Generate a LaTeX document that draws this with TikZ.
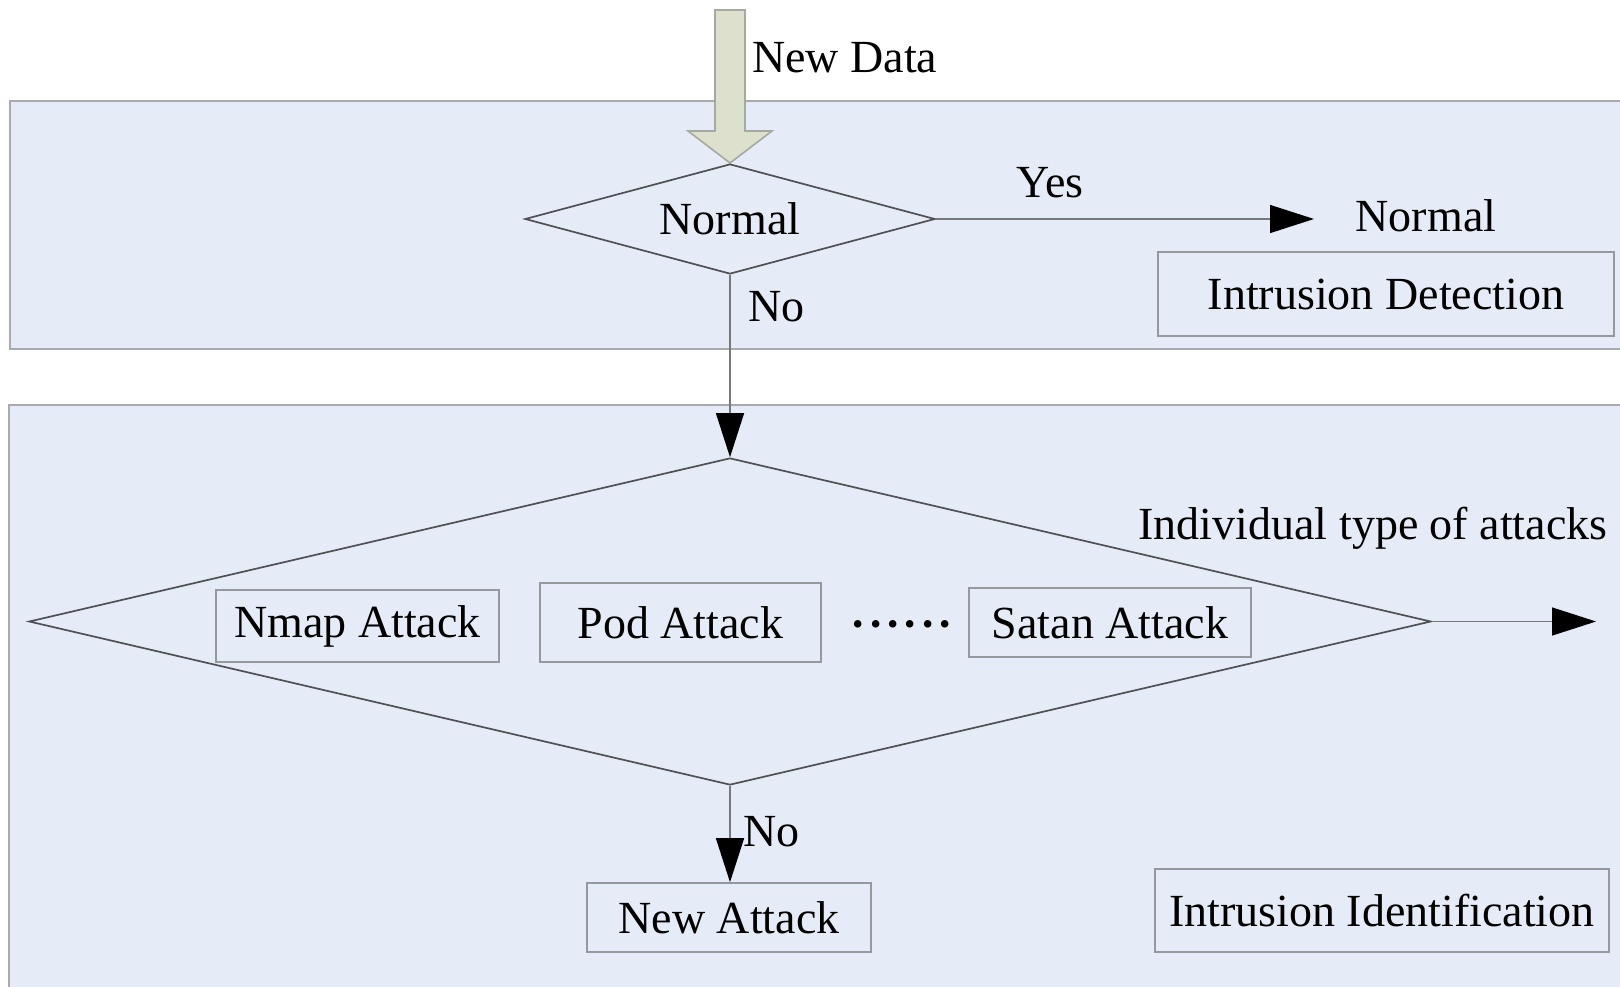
\documentclass[tikz,border=0pt]{standalone}
\usepackage{fontspec}
\setmainfont{Liberation Serif}
\usetikzlibrary{shapes.geometric,arrows.meta}
\definecolor{bandfill}{RGB}{230,236,247}
\definecolor{bandline}{RGB}{168,170,176}
\definecolor{boxline}{RGB}{150,152,158}
\definecolor{flowline}{RGB}{120,120,120}
\definecolor{diamline}{RGB}{80,80,85}
\definecolor{inarrow}{RGB}{220,224,204}
\definecolor{inarrowline}{RGB}{165,170,160}
\tikzset{
  lbl/.style={font=\fontsize{46}{52}\selectfont, inner sep=0pt},
  band/.style={fill=bandfill, draw=bandline, line width=2pt},
  stepbox/.style={draw=boxline, line width=1.6pt, inner sep=0pt,
    font=\fontsize{46}{52}\selectfont},
  decision/.style={diamond, draw=diamline, line width=1.7pt, inner sep=0pt,
    aspect=4, font=\fontsize{46}{52}\selectfont},
  flow/.style={draw=flowline, line width=1.4pt,
    -{Triangle[length=44pt,width=28pt,color=black]}},
}
\begin{document}
\begin{tikzpicture}[x=1pt,y=-1pt]
  \useasboundingbox (0,0) rectangle (1620,987);
  \clip (0,0) rectangle (1620,987);
  % background bands
  \fill[white] (0,0) rectangle (1620,987);
  \draw[band] (10,101) rectangle (1640,349);
  \draw[band] (9,405) rectangle (1640,1010);

  % incoming data arrow
  \draw[fill=inarrow, draw=inarrowline, line width=1.6pt]
    (715,10) -- (745,10) -- (745,131) -- (772,131) -- (730,163)
    -- (688,131) -- (715,131) -- cycle;
  \node[lbl, anchor=west] (newdata) at (752,58) {New Data};

  % detection stage
  \node[decision, minimum width=410pt, minimum height=110pt] (normal) at (730,219) {Normal};
  \coordinate (yesend) at (1314,219);
  \draw[flow] (normal.east) -- (yesend);
  \node[lbl] (yes) at (1050,183) {Yes};
  \node[lbl] (normalout) at (1426,216) {Normal};
  \node[stepbox, minimum width=456pt, minimum height=84pt] (detect) at (1386,294) {Intrusion Detection};
  \node[lbl, anchor=west] (no1) at (748,307) {No};

  % identification stage
  \node[decision, minimum width=1402pt, minimum height=327pt] (classify) at (730,621.5) {};
  \draw[flow] (normal.south) -- (classify.north);
  \node[stepbox, minimum width=283pt, minimum height=72pt] (nmap) at (357.5,626) {Nmap Attack};
  \node[stepbox, minimum width=281pt, minimum height=79pt] (pod) at (680.5,622.5) {Pod Attack};
  \node[lbl, font=\fontsize{46}{52}\selectfont\bfseries] (dots) at (902,630)
    {·\kern2pt·\kern2pt·\kern2pt·\kern2pt·\kern2pt·};
  \node[stepbox, minimum width=282pt, minimum height=69pt] (satan) at (1110,622.5) {Satan Attack};
  \node[lbl] (indiv) at (1373,528) {Individual type of attacks};
  \coordinate (typeend) at (1596,621.5);
  \draw[flow] (classify.east) -- (typeend);

  \node[stepbox, minimum width=284pt, minimum height=69pt] (newattack) at (729,917.5) {New Attack};
  \draw[flow] (classify.south) -- (classify.south |- newattack.north);
  \node[lbl, anchor=west] (no2) at (743,832) {No};
  \node[stepbox, minimum width=454pt, minimum height=83pt] (identify) at (1382,910.5) {Intrusion Identification};
\end{tikzpicture}
\end{document}
